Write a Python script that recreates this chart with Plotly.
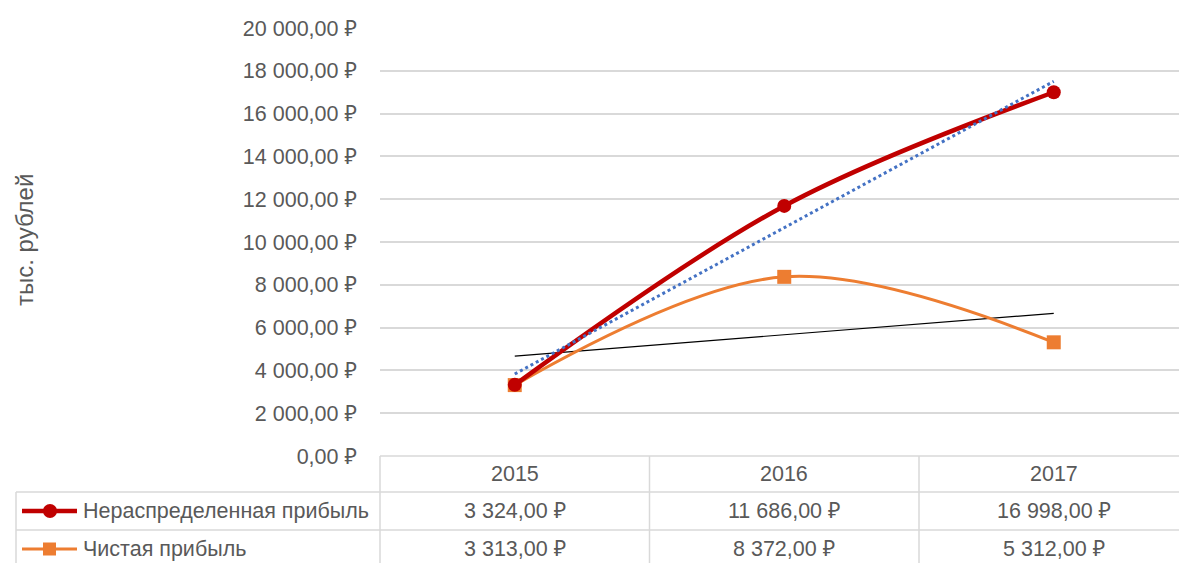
import numpy as np
import plotly.graph_objects as go

years = ["2015", "2016", "2017"]
retained = [3324, 11686, 16998]      # Нераспределенная прибыль
net = [3313, 8372, 5312]             # Чистая прибыль
series_names = ["Нераспределенная прибыль", "Чистая прибыль"]
y_ticks = [0, 2000, 4000, 6000, 8000, 10000, 12000, 14000, 16000, 18000, 20000]

W, H = 1179, 563
L, R, T, B = 380, 0, 27, 106
PW, PH = W - L - R, H - T - B
Y0_PX, Y20_PX = 456.0, 28.0   # pixel rows of 0 and 20000
FONT = "Liberation Sans, Noto Sans, sans-serif"
TXT = "#595959"
GRID = "#d9d9d9"
FS = 21.5

# y-range so that 0 and 20000 land on the wanted pixel rows
upp = 20000 / (Y0_PX - Y20_PX)
y_lo = -(T + PH - Y0_PX) * upp
y_hi = 20000 + (Y20_PX - T) * upp


def rub(v):
    s = f"{v:,.2f}".replace(",", " ").replace(".", ",")
    return s + " ₽"


def px(xp):
    return (xp - L) / PW


def py(yp):
    return (T + PH - yp) / PH


xs = list(range(len(years)))

fig = go.Figure()

# trendlines (linear least squares)
k1, b1 = np.polyfit(xs, retained, 1)
k2, b2 = np.polyfit(xs, net, 1)
xt = [xs[0], xs[-1]]

fig.add_trace(go.Scatter(x=xt, y=[k2 * x + b2 for x in xt], mode="lines",
                         line=dict(color="black", width=1.2), showlegend=False, hoverinfo="skip"))
fig.add_trace(go.Scatter(x=xs, y=net, mode="lines+markers",
                         line=dict(color="#ED7D31", width=3, shape="spline", smoothing=1),
                         marker=dict(symbol="square", size=14, color="#ED7D31"),
                         name=series_names[1], showlegend=False))
fig.add_trace(go.Scatter(x=xs, y=retained, mode="lines+markers",
                         line=dict(color="#C00000", width=4.5, shape="spline", smoothing=1),
                         marker=dict(symbol="circle", size=14, color="#C00000"),
                         name=series_names[0], showlegend=False))
fig.add_trace(go.Scatter(x=xt, y=[k1 * x + b1 for x in xt], mode="lines",
                         line=dict(color="#4472C4", width=3, dash="dot"), showlegend=False, hoverinfo="skip"))

shapes = []
ann = []

# table grid
y_top, y_r1, y_r2, y_bot = Y0_PX, 492, 530, 570
line = dict(color=GRID, width=1.5)
shapes.append(dict(type="line", xref="paper", yref="y", x0=0, x1=1.0, y0=0, y1=0,
                   line=line, layer="below"))
for yy in (y_r1, y_r2):
    shapes.append(dict(type="line", xref="paper", yref="paper", x0=px(16), x1=1.0,
                       y0=py(yy), y1=py(yy), line=line))
shapes.append(dict(type="line", xref="paper", yref="paper", x0=px(16), x1=px(16),
                   y0=py(y_r1), y1=py(y_bot), line=line))
shapes.append(dict(type="line", xref="paper", yref="paper", x0=0, x1=0,
                   y0=py(y_top), y1=py(y_bot), line=line))
for xv in (0.5, 1.5):
    shapes.append(dict(type="line", xref="x", yref="paper", x0=xv, x1=xv,
                       y0=py(y_top), y1=py(y_bot), line=line))

cell_font = dict(size=FS, color=TXT, family=FONT)
# header and values
for i, yr in enumerate(years):
    for yc, txt in (((y_top + y_r1) / 2, yr),
                    ((y_r1 + y_r2) / 2, rub(retained[i])),
                    ((y_r2 + 568) / 2, rub(net[i]))):
        ann.append(dict(x=i, xref="x", y=py(yc), yref="paper", text=txt,
                        xanchor="center", yanchor="middle", showarrow=False, font=cell_font))

# row labels with legend keys
rows = [((y_r1 + y_r2) / 2, "#C00000", 4.5, "circle"), ((y_r2 + 568) / 2, "#ED7D31", 3, "square")]
for (yc, col, wd, sym), name in zip(rows, series_names):
    shapes.append(dict(type="line", xref="paper", yref="paper", x0=px(22), x1=px(77),
                       y0=py(yc), y1=py(yc), line=dict(color=col, width=wd)))
    if sym == "circle":
        shapes.append(dict(type="circle", xref="paper", yref="paper", x0=px(43), x1=px(57),
                           y0=py(yc + 7), y1=py(yc - 7), fillcolor=col, line=dict(width=0)))
    else:
        shapes.append(dict(type="rect", xref="paper", yref="paper", x0=px(43), x1=px(56),
                           y0=py(yc + 6.5), y1=py(yc - 6.5), fillcolor=col, line=dict(width=0)))
    ann.append(dict(x=px(81), xref="paper", y=py(yc), yref="paper", text=name,
                    xanchor="left", yanchor="middle", showarrow=False, font=cell_font))

# y-axis title
ann.append(dict(x=px(24), xref="paper", y=py(240), yref="paper", text="тыс. рублей", textangle=-90,
                xanchor="center", yanchor="middle", showarrow=False,
                font=dict(size=24, color=TXT, family=FONT)))

fig.update_layout(
    width=W, height=H,
    margin=dict(l=L, r=R, t=T, b=B),
    paper_bgcolor="white", plot_bgcolor="white",
    shapes=shapes, annotations=ann,
    xaxis=dict(range=[-0.5, -0.5 + PW / 269.5], showticklabels=False, showgrid=False, zeroline=False,
               showline=False, fixedrange=True),
    yaxis=dict(range=[y_lo, y_hi], tickvals=y_ticks, ticktext=[rub(v) for v in y_ticks],
               showgrid=True, gridcolor=GRID, gridwidth=1.5, zeroline=False, showline=False,
               ticklabelstandoff=22,
               tickfont=dict(size=FS, color=TXT, family=FONT)),
)
fig.write_html("out.html", config={"displayModeBar": False},
               post_script="document.body.style.margin='0';document.body.style.overflow='hidden';")
